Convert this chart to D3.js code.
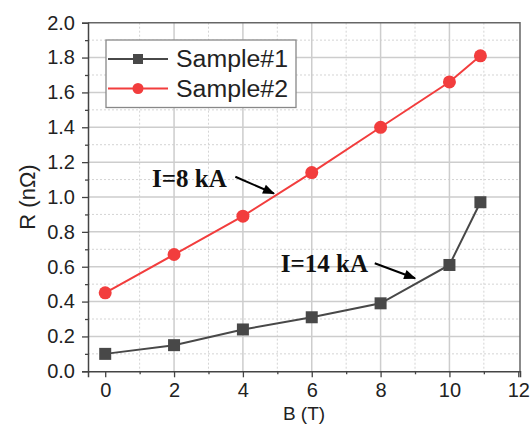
<!DOCTYPE html>
<html>
<head>
<meta charset="utf-8">
<script src="https://cdn.jsdelivr.net/npm/d3@7"></script>
<style>
  body { margin: 0; background: #fff; }
  svg { display: block; font-family: "Liberation Sans", Arial, sans-serif; }
</style>
</head>
<body>
<svg id="chart" width="530" height="424"></svg>
<script>
// field values (T) and resistance (nΩ)
const bField = [0, 2, 4, 6, 8, 10, 10.9];
const sample1 = [0.10, 0.15, 0.24, 0.31, 0.39, 0.61, 0.97];
const sample2 = [0.45, 0.67, 0.89, 1.14, 1.40, 1.66, 1.81];
const seriesNames = ["Sample#1", "Sample#2"];
const xTicks = [0, 2, 4, 6, 8, 10, 12];
const yTicks = [0, 0.2, 0.4, 0.6, 0.8, 1.0, 1.2, 1.4, 1.6, 1.8, 2.0];

// annotations: text anchor + arrow start/end, in data units
const notes = [
  { text: "I=8 kA", x: 1.36, y: 1.06, from: [3.78, 1.116], to: [4.9, 1.02] },
  { text: "I=14 kA", x: 5.1, y: 0.571, from: [7.83, 0.62], to: [9.0, 0.534] }
];

const svg = d3.select("#chart");
const margin = { left: 88, top: 22.7, right: 10, bottom: 52.7 };
const width = 530 - margin.left - margin.right;
const height = 424 - margin.top - margin.bottom;

const x = d3.scaleLinear().domain([-0.5, 12.05]).range([0, width]);
const y = d3.scaleLinear().domain([0, 2]).range([height, 0]);

const g = svg.append("g").attr("transform", `translate(${margin.left},${margin.top})`);

// grid: minor dotted, major solid
const xMinor = d3.range(1, 12, 2);
const yMinor = d3.range(0.1, 2, 0.2);
g.append("g").selectAll("line").data(xMinor).join("line")
  .attr("x1", d => x(d)).attr("x2", d => x(d)).attr("y1", 0).attr("y2", height)
  .attr("stroke", "#d4d4d4").attr("stroke-width", 1).attr("stroke-dasharray", "2,2");
g.append("g").selectAll("line").data(yMinor).join("line")
  .attr("y1", d => y(d)).attr("y2", d => y(d)).attr("x1", 0).attr("x2", width)
  .attr("stroke", "#d4d4d4").attr("stroke-width", 1).attr("stroke-dasharray", "2,2");
g.append("g").selectAll("line").data(xTicks.filter(d => d > 0 && d < 12)).join("line")
  .attr("x1", d => x(d)).attr("x2", d => x(d)).attr("y1", 0).attr("y2", height)
  .attr("stroke", "#cdcdcd").attr("stroke-width", 1.5);
g.append("g").selectAll("line").data(yTicks.filter(d => d > 0 && d < 2)).join("line")
  .attr("y1", d => y(d)).attr("y2", d => y(d)).attr("x1", 0).attr("x2", width)
  .attr("stroke", "#cdcdcd").attr("stroke-width", 1.5);

// frame top/right
g.append("path")
  .attr("d", `M0,0H${width}V${height}`)
  .attr("fill", "none").attr("stroke", "#666").attr("stroke-width", 1.5);

// axes
g.append("g").attr("transform", `translate(0,${height})`)
  .call(d3.axisBottom(x).tickValues(xTicks).tickSize(6).tickPadding(6).tickFormat(d3.format("d")));
g.append("g").attr("transform", `translate(0,${height})`)
  .call(d3.axisBottom(x).tickValues(xMinor).tickSize(3).tickFormat(""))
  .call(a => a.select(".domain").remove());
g.append("g")
  .call(d3.axisLeft(y).tickValues(yTicks).tickSize(6).tickPadding(7).tickFormat(d3.format(".1f")));
g.append("g")
  .call(d3.axisLeft(y).tickValues(yMinor).tickSize(3).tickFormat(""))
  .call(a => a.select(".domain").remove());

g.selectAll(".domain").attr("stroke", "#444").attr("stroke-width", 1.5);
g.selectAll(".tick line").attr("stroke", "#444").attr("stroke-width", 1.3);
g.selectAll(".tick text").attr("font-size", 20).attr("fill", "#222")
  .attr("font-family", "'Liberation Sans', Arial, sans-serif");

// axis titles
svg.append("text")
  .attr("transform", `translate(35,${margin.top + y(1.0)})rotate(-90)`)
  .attr("text-anchor", "middle").attr("font-size", 22).attr("fill", "#222")
  .text("R (nΩ)");
svg.append("text")
  .attr("x", margin.left + width / 2).attr("y", 419.5)
  .attr("text-anchor", "middle").attr("font-size", 19).attr("fill", "#222")
  .text("B (T)");

// series
const series = [
  { name: seriesNames[0], values: sample1, color: "#484848", shape: "square" },
  { name: seriesNames[1], values: sample2, color: "#f23d3d", shape: "circle" }
];
const line = d3.line().x(d => x(d[0])).y(d => y(d[1]));

series.forEach(s => {
  const pts = bField.map((b, i) => [b, s.values[i]]);
  g.append("path").datum(pts).attr("d", line)
    .attr("fill", "none").attr("stroke", s.color).attr("stroke-width", 2);
  if (s.shape === "square") {
    g.append("g").selectAll("rect").data(pts).join("rect")
      .attr("x", d => x(d[0]) - 6).attr("y", d => y(d[1]) - 6)
      .attr("width", 12).attr("height", 12).attr("fill", s.color);
  } else {
    g.append("g").selectAll("circle").data(pts).join("circle")
      .attr("cx", d => x(d[0])).attr("cy", d => y(d[1])).attr("r", 6.5)
      .attr("fill", s.color);
  }
});

// annotations
svg.append("defs").append("marker")
  .attr("id", "arrow").attr("viewBox", "0 0 10 10")
  .attr("refX", 9).attr("refY", 5)
  .attr("markerWidth", 7).attr("markerHeight", 6)
  .attr("markerUnits", "strokeWidth")
  .attr("orient", "auto")
  .append("path").attr("d", "M0,1L10,5L0,9z").attr("fill", "#000");

notes.forEach(n => {
  g.append("text")
    .attr("x", x(n.x)).attr("y", y(n.y))
    .attr("font-family", "'Liberation Serif', 'Times New Roman', serif")
    .attr("font-weight", "bold").attr("font-size", 25).attr("fill", "#111")
    .text(n.text);
  g.append("line")
    .attr("x1", x(n.from[0])).attr("y1", y(n.from[1]))
    .attr("x2", x(n.to[0])).attr("y2", y(n.to[1]))
    .attr("stroke", "#000").attr("stroke-width", 2)
    .attr("marker-end", "url(#arrow)");
});

// legend
const legend = svg.append("g");
legend.append("rect")
  .attr("x", 106).attr("y", 40).attr("width", 190).attr("height", 67.5)
  .attr("fill", "#fff").attr("stroke", "#888").attr("stroke-width", 1.3);
series.forEach((s, i) => {
  const ly = 59 + i * 29.5;
  legend.append("line").attr("x1", 108).attr("x2", 168).attr("y1", ly).attr("y2", ly)
    .attr("stroke", s.color).attr("stroke-width", 2);
  if (s.shape === "square") {
    legend.append("rect").attr("x", 138 - 5).attr("y", ly - 5).attr("width", 10).attr("height", 10)
      .attr("fill", s.color);
  } else {
    legend.append("circle").attr("cx", 138).attr("cy", ly).attr("r", 5.5).attr("fill", s.color);
  }
  legend.append("text").attr("x", 176).attr("y", ly + 8)
    .attr("font-size", 23).attr("fill", "#222")
    .attr("textLength", 112).attr("lengthAdjust", "spacingAndGlyphs")
    .text(s.name);
});
</script>
</body>
</html>
